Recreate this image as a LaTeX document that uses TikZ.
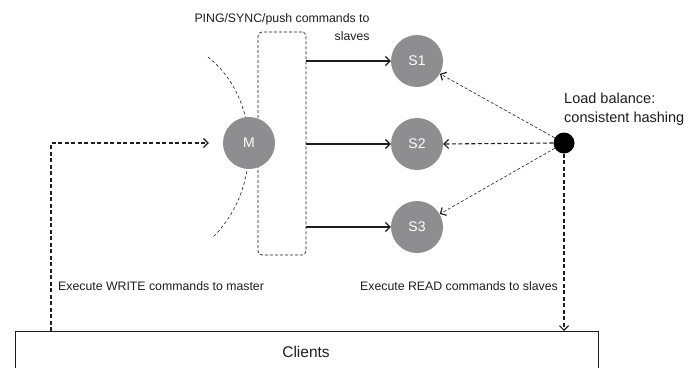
\documentclass[tikz,border=0pt]{standalone}
\usepackage{fontspec}
\setmainfont{Liberation Sans}
\usetikzlibrary{arrows.meta}
\definecolor{nodegray}{RGB}{142,142,144}
\definecolor{ink}{RGB}{30,30,30}
\begin{document}
\begin{tikzpicture}[x=1pt,y=-1pt,
  ball/.style={circle,fill=nodegray,draw=none,minimum size=52pt,inner sep=0pt,text=white,font=\fontsize{14}{16}\selectfont},
  lbl/.style={text=ink,inner sep=0pt,font=\fontsize{12.3}{18}\selectfont},
  tip/.style={-{Straight Barb[length=4.5pt,width=9pt,line width=1.2pt]}},
  solidarr/.style={tip,draw=ink,line width=1.1pt},
  thickdash/.style={tip,draw=ink,line width=1.1pt,dash pattern=on 4pt off 2.5pt},
  thindash/.style={-{Straight Barb[length=4.5pt,width=9pt,line width=1.2pt]},draw=ink,line width=0.6pt,dash pattern=on 3pt off 2pt},
  faintdash/.style={draw=ink,line width=0.6pt,dash pattern=on 3pt off 2.5pt}
]
\useasboundingbox (0,0) rectangle (700,367);
\fill[white] (0,0) rectangle (700,367);

% dashed arc behind master
\draw[faintdash] (208,57) .. controls (262,100) and (262,190) .. (212,238);

% dashed rounded box
\node[draw=ink,line width=0.7pt,dash pattern=on 3pt off 2pt,rounded corners=4pt,minimum width=48pt,minimum height=223pt,inner sep=0pt] (box) at (282,143.5) {};

% nodes
\node[ball] (M) at (249,143) {M};
\node[ball] (S1) at (417,61) {S1};
\node[ball] (S2) at (417,144) {S2};
\node[ball] (S3) at (417,227) {S3};
\node[circle,fill=black,minimum size=21pt,inner sep=0pt] (LB) at (564,143) {};

% clients box (bottom edge beyond page)
\node[draw=ink,line width=0.8pt,minimum width=583pt,minimum height=60pt,inner sep=0pt,anchor=north west] (clients) at (15,331) {};
\node[text=ink,font=\fontsize{15.5}{18}\selectfont] (clientstxt) at (306,352) {Clients};

% labels
\node[lbl,align=right] (ping) at (282,27) {PING/SYNC/push commands to\\slaves};
\node[lbl,align=left,anchor=west,font=\fontsize{14.5}{19}\selectfont] (lbtxt) at (564,109.5) {Load balance:\\consistent hashing};
\node[lbl,anchor=west] (wtxt) at (58,286) {Execute WRITE commands to master};
\node[lbl,anchor=east] (rtxt) at (558,286) {Execute READ commands to slaves};

% push arrows
\draw[solidarr] (box.east |- S1) -- (S1.west);
\draw[solidarr] (box.east |- S2) -- (S2.west);
\draw[solidarr] (box.east |- S3) -- (S3.west);

% load balance arrows
\draw[thindash] (LB) -- (S1);
\draw[thickdash] (LB.west) -- (S2.east);
\draw[thindash] (LB) -- (S3);
\draw[thickdash] (LB.south) -- (LB |- clients.north);

% write path
\coordinate (wx) at (51,0);
\draw[thickdash] (clients.north -| wx) |- ([xshift=-14pt]M.west);
\end{tikzpicture}
\end{document}
